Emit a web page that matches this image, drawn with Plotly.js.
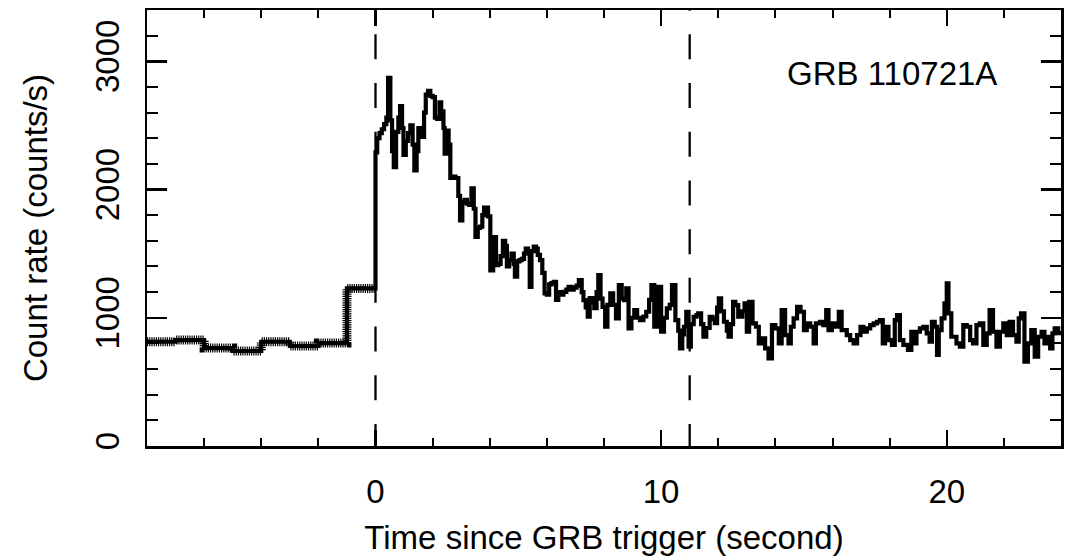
<!DOCTYPE html>
<html><head><meta charset="utf-8">
<script src="https://cdn.plot.ly/plotly-3.0.1.min.js"></script>
<style>html,body{margin:0;padding:0;background:#fff}</style>
</head><body><div id="chart" style="width:1072px;height:556px"></div>
<script>
// Pre-trigger background: 1-s bins (bin start times, s) and rates (counts/s)
const preStart = [-8, -7, -6, -5, -4, -3, -2, -1];
const preRate  = [813, 826, 764, 741, 813, 780, 803, 1229];

// Burst and afterwards: bin start times (s) and rates (counts/s)
const burstTime = [0.00,0.06,0.14,0.22,0.30,0.38,0.44,0.52,0.58,0.64,0.72,0.80,0.86,0.93,0.98,1.06,1.14,1.22,1.30,1.36,1.44,1.50,1.58,1.64,1.70,1.76,1.84,1.92,2.00,2.08,2.16,2.24,2.30,2.38,2.42,2.48,2.56,2.62,2.70,2.80,2.90,2.96,3.04,3.12,3.20,3.28,3.36,3.44,3.50,3.58,3.66,3.74,3.80,3.94,4.02,4.12,4.22,4.30,4.38,4.46,4.54,4.60,4.68,4.76,4.84,4.88,4.96,5.04,5.12,5.20,5.26,5.34,5.40,5.46,5.54,5.62,5.68,5.76,5.84,5.92,6.00,6.08,6.16,6.24,6.32,6.40,
6.50,6.58,6.68,6.76,6.86,6.94,7.04,7.12,7.22,7.28,7.36,7.43,7.50,7.60,7.66,7.74,7.80,7.88,7.95,8.04,8.12,8.22,8.32,8.42,8.52,8.62,8.70,8.78,8.86,8.96,9.06,9.16,9.26,9.38,9.48,9.58,9.66,9.76,9.88,10.00,10.10,10.20,10.30,10.38,10.50,10.60,10.66,10.74,10.80,10.88,10.96,11.04,11.14,11.24,11.30,11.40,11.48,11.58,11.70,11.80,11.88,11.96,12.02,12.10,12.20,12.30,12.36,12.44,12.52,12.60,
12.70,12.84,12.92,13.00,13.08,13.20,13.32,13.42,13.54,13.64,13.76,13.88,14.00,14.12,14.22,14.34,14.46,14.54,14.64,14.76,14.88,15.00,15.10,15.22,15.34,15.42,15.56,15.68,15.78,15.86,15.98,16.10,16.22,16.32,16.50,16.62,16.74,16.86,16.98,17.08,17.20,17.32,17.44,17.56,17.66,17.76,17.84,17.96,18.08,18.18,18.26,18.36,18.48,18.64,18.76,18.84,18.94,19.06,19.18,19.30,
19.40,19.48,19.58,19.66,19.72,19.82,19.92,20.00,20.06,20.16,20.34,20.46,20.58,20.70,20.82,20.92,21.04,21.16,21.28,21.40,21.50,21.62,21.74,21.86,21.98,22.10,22.20,22.32,22.44,22.52,22.60,22.72,22.84,22.96,23.08,23.20,23.32,23.42,23.54,23.62,23.70,23.78,23.90];
const burstRate = [2290,2400,2440,2470,2510,2560,2870,2540,2300,2175,2450,2560,2650,2480,2270,2380,2440,2500,2350,2150,2300,2480,2470,2410,2600,2740,2770,2730,2720,2560,2550,2680,2610,2480,2280,2460,2350,2090,2100,2090,1950,1760,1900,1920,1890,1880,2010,1850,1630,1700,1710,1800,1860,1790,1370,1630,1410,1420,1480,1600,1560,1400,1450,1500,1420,1320,1440,1450,1460,1500,1540,1520,1240,1520,1555,1540,1490,1450,1350,1190,1180,1260,1270,1280,1140,1200,
1180,1202,1220,1241,1220,1235,1250,1293,1200,1138,1080,1008,1153,1120,1075,1200,1332,1150,1085,930,1100,1190,1100,995,1254,1150,1138,1229,917,1000,1060,1000,982,1010,1047,1140,1254,930,1241,891,1000,1073,1100,1254,982,900,762,870,930,1047,774,950,1008,1020,1034,950,852,920,1008,990,958,1080,1151,1050,969,900,852,950,1125,1099,
1008,1050,1112,891,1125,956,930,801,840,762,684,943,917,801,1060,865,801,930,995,1086,1047,904,956,930,801,956,969,943,1060,904,956,930,1047,904,865,826,801,865,930,891,917,943,956,969,982,801,930,826,788,982,1021,826,788,749,891,801,891,917,930,878,
813,969,930,710,904,995,1112,1268,1034,852,801,774,943,930,826,801,943,956,788,878,1060,891,774,891,956,865,969,865,813,995,1034,658,801,904,697,852,891,801,852,762,878,917,880];
const endTime = 24;

// Dashed reference lines: trigger time and end of main emission (s)
const refLines = [0, 11];

const xRange = [-8, 24];
const yRange = [0, 3400];
const xTicks = [0, 10, 20];
const yTicks = [0, 1000, 2000, 3000];
const xTitle = 'Time since GRB trigger (second)';
const yTitle = 'Count rate (counts/s)';
const label = 'GRB 110721A';

const FONT = 'Liberation Sans, Arial, Helvetica, sans-serif';

// pre-trigger trace (closing the last 1-s bin at t=0)
const preX = preStart.concat([preStart[preStart.length-1] + 1]);
const preY = preRate.concat([preRate[preRate.length-1]]);
// full curve
const allX = preStart.concat(burstTime, [endTime]);
const allY = preRate.concat(burstRate, [burstRate[burstRate.length-1]]);

const traces = [
  {x: preX, y: preY, type: 'scatter', mode: 'lines', line: {shape: 'hv', color: '#000', width: 9, dash: '1.2px,1px'}, hoverinfo: 'skip', showlegend: false},
  {x: allX, y: allY, type: 'scatter', mode: 'lines', line: {shape: 'hv', color: '#000', width: 4.2}, showlegend: false}
];

const shapes = refLines.map(t => ({
  type: 'line', xref: 'x', yref: 'y', x0: t, x1: t, y0: 3590, y1: 0,
  line: {color: '#000', width: 2.3, dash: '25px,23.7px'}, layer: 'below'
}));

const axisCommon = {
  showgrid: false, zeroline: false, showline: true, linecolor: '#000', linewidth: 2.5,
  mirror: 'allticks', ticks: 'inside', tickcolor: '#000', tickwidth: 2.5,
  tickfont: {family: FONT, size: 33, color: '#000'}
};

const layout = {
  width: 1072, height: 556,
  margin: {l: 147, r: 11, t: 10, b: 110, pad: 0},
  paper_bgcolor: '#fff', plot_bgcolor: '#fff',
  font: {family: FONT, size: 33, color: '#000'},
  xaxis: Object.assign({}, axisCommon, {
    range: xRange, tickmode: 'array', tickvals: xTicks, ticktext: xTicks.map(String),
    ticklen: 16, ticklabelstandoff: 15,
    minor: {dtick: 2, tick0: 0, ticks: 'inside', ticklen: 8, tickwidth: 2, tickcolor: '#000'},
    title: {text: xTitle, font: {family: FONT, size: 33, color: '#000'}, standoff: 20},
    automargin: false
  }),
  yaxis: Object.assign({}, axisCommon, {
    range: yRange, tickmode: 'array', tickvals: yTicks, ticktext: yTicks.map(String),
    ticklen: 20, tickangle: -90, ticklabelstandoff: 12,
    minor: {dtick: 200, tick0: 0, ticks: 'inside', ticklen: 11, tickwidth: 2, tickcolor: '#000'},
    title: {text: yTitle, font: {family: FONT, size: 33, color: '#000'}, standoff: 32},
    automargin: false
  }),
  shapes: shapes,
  annotations: [{
    text: label, xref: 'paper', yref: 'paper', x: 0.8156, y: 0.855,
    xanchor: 'center', yanchor: 'middle', showarrow: false,
    font: {family: FONT, size: 33, color: '#000'}
  }]
};

Plotly.newPlot('chart', traces, layout, {displayModeBar: false, staticPlot: true});
</script>
</body></html>
